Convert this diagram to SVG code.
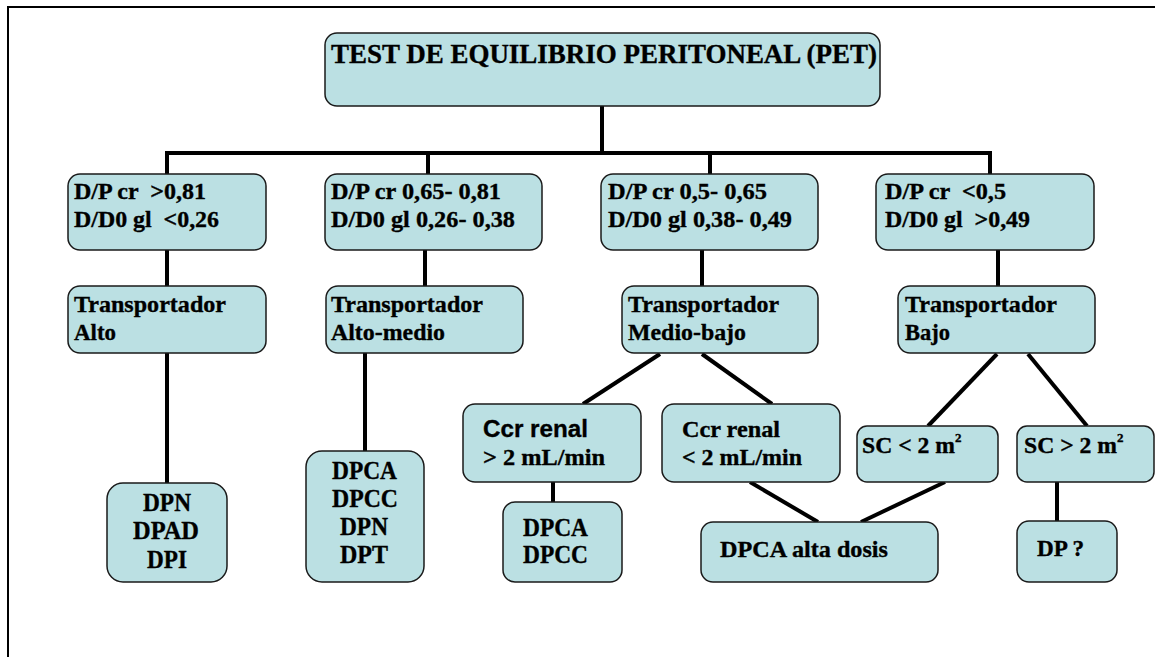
<svg xmlns="http://www.w3.org/2000/svg" width="1155" height="657" viewBox="0 0 1155 657">
  <style>
    .box { fill: #bbe0e3; stroke: #1a1a1a; stroke-width: 1.5; }
    .link { stroke: #000; stroke-width: 4; fill: none; stroke-linecap: butt; }
    text { font-family: "Liberation Serif", "Times New Roman", serif; font-weight: bold; fill: #000; stroke: #000; stroke-width: 0.35; white-space: pre; }
    .t23 { font-size: 23px; }
    .t24 { font-size: 24px; }
    .t25 { font-size: 25px; }
    .t27 { font-size: 27px; }
    .sans { font-family: "Liberation Sans", Arial, sans-serif; }
  </style>
  <rect width="1155" height="657" fill="#fff"/>
  <!-- page frame -->
  <path d="M8,657 V7 H1155" fill="none" stroke="#000" stroke-width="2"/>

  <g id="connectors">
    <line class="link" x1="602" y1="106" x2="602" y2="153"/>
    <line class="link" x1="165" y1="153" x2="992" y2="153"/>
    <line class="link" x1="167" y1="153" x2="167" y2="174"/>
    <line class="link" x1="428" y1="153" x2="428" y2="174"/>
    <line class="link" x1="710" y1="153" x2="710" y2="174"/>
    <line class="link" x1="990" y1="153" x2="990" y2="174"/>
    <line class="link" x1="167" y1="250" x2="167" y2="286"/>
    <line class="link" x1="425" y1="250" x2="425" y2="286"/>
    <line class="link" x1="702" y1="250" x2="702" y2="286"/>
    <line class="link" x1="998" y1="250" x2="998" y2="286"/>
    <line class="link" x1="167" y1="353" x2="167" y2="484"/>
    <line class="link" x1="365" y1="353" x2="365" y2="452"/>
    <line class="link" x1="660" y1="354" x2="583" y2="404"/>
    <line class="link" x1="702" y1="354" x2="772" y2="404"/>
    <line class="link" x1="997" y1="354" x2="928" y2="426"/>
    <line class="link" x1="1028" y1="354" x2="1087" y2="426"/>
    <line class="link" x1="553" y1="482" x2="553" y2="503"/>
    <line class="link" x1="750" y1="482" x2="818" y2="522"/>
    <line class="link" x1="945" y1="482" x2="861" y2="522"/>
    <line class="link" x1="1057" y1="482" x2="1057" y2="521"/>
  </g>

  <g id="pet">
    <rect class="box" x="325" y="33" width="555" height="73" rx="12"/>
    <text class="t27" x="331" y="63" textLength="546" lengthAdjust="spacingAndGlyphs">TEST DE EQUILIBRIO PERITONEAL (PET)</text>
  </g>

  <g id="rango-alto">
    <rect class="box" x="68" y="174" width="198" height="76" rx="12"/>
    <text class="t24" x="74" y="199" textLength="132" lengthAdjust="spacingAndGlyphs">D/P cr  &gt;0,81</text>
    <text class="t24" x="74" y="227" textLength="145" lengthAdjust="spacingAndGlyphs">D/D0 gl  &lt;0,26</text>
  </g>
  <g id="rango-alto-medio">
    <rect class="box" x="325" y="174" width="217" height="76" rx="12"/>
    <text class="t24" x="331" y="199" textLength="170" lengthAdjust="spacingAndGlyphs">D/P cr 0,65- 0,81</text>
    <text class="t24" x="331" y="227" textLength="184" lengthAdjust="spacingAndGlyphs">D/D0 gl 0,26- 0,38</text>
  </g>
  <g id="rango-medio-bajo">
    <rect class="box" x="601" y="174" width="217" height="76" rx="12"/>
    <text class="t24" x="608" y="199" textLength="159" lengthAdjust="spacingAndGlyphs">D/P cr 0,5- 0,65</text>
    <text class="t24" x="608" y="227" textLength="184" lengthAdjust="spacingAndGlyphs">D/D0 gl 0,38- 0,49</text>
  </g>
  <g id="rango-bajo">
    <rect class="box" x="876" y="174" width="218" height="76" rx="12"/>
    <text class="t24" x="885" y="199" textLength="121" lengthAdjust="spacingAndGlyphs">D/P cr  &lt;0,5</text>
    <text class="t24" x="885" y="227" textLength="145" lengthAdjust="spacingAndGlyphs">D/D0 gl  &gt;0,49</text>
  </g>

  <g id="transp-alto">
    <rect class="box" x="68" y="286" width="198" height="67" rx="12"/>
    <text class="t24" x="74" y="312" textLength="152" lengthAdjust="spacingAndGlyphs">Transportador</text>
    <text class="t24" x="74" y="340" textLength="42" lengthAdjust="spacingAndGlyphs">Alto</text>
  </g>
  <g id="transp-alto-medio">
    <rect class="box" x="326" y="286" width="197" height="67" rx="12"/>
    <text class="t24" x="331" y="312" textLength="152" lengthAdjust="spacingAndGlyphs">Transportador</text>
    <text class="t24" x="331" y="340" textLength="114" lengthAdjust="spacingAndGlyphs">Alto-medio</text>
  </g>
  <g id="transp-medio-bajo">
    <rect class="box" x="622" y="286" width="196" height="67" rx="12"/>
    <text class="t24" x="628" y="312" textLength="151" lengthAdjust="spacingAndGlyphs">Transportador</text>
    <text class="t24" x="628" y="340" textLength="118" lengthAdjust="spacingAndGlyphs">Medio-bajo</text>
  </g>
  <g id="transp-bajo">
    <rect class="box" x="898" y="286" width="197" height="67" rx="12"/>
    <text class="t24" x="905" y="312" textLength="152" lengthAdjust="spacingAndGlyphs">Transportador</text>
    <text class="t24" x="905" y="340" textLength="45" lengthAdjust="spacingAndGlyphs">Bajo</text>
  </g>

  <g id="dp-alto">
    <rect class="box" x="107" y="483" width="120" height="99" rx="16"/>
    <text class="t25" x="143" y="511" textLength="48" lengthAdjust="spacingAndGlyphs">DPN</text>
    <text class="t25" x="133" y="539" textLength="66" lengthAdjust="spacingAndGlyphs">DPAD</text>
    <text class="t25" x="147" y="568" textLength="40" lengthAdjust="spacingAndGlyphs">DPI</text>
  </g>
  <g id="dp-alto-medio">
    <rect class="box" x="306" y="451" width="118" height="131" rx="16"/>
    <text class="t25" x="332" y="479" textLength="65" lengthAdjust="spacingAndGlyphs">DPCA</text>
    <text class="t25" x="332" y="507" textLength="66" lengthAdjust="spacingAndGlyphs">DPCC</text>
    <text class="t25" x="340" y="535" textLength="48" lengthAdjust="spacingAndGlyphs">DPN</text>
    <text class="t25" x="340" y="563" textLength="48" lengthAdjust="spacingAndGlyphs">DPT</text>
  </g>

  <g id="ccr-mayor">
    <rect class="box" x="463" y="404" width="178" height="78" rx="12"/>
    <text class="t24 sans" x="483" y="437" textLength="105" lengthAdjust="spacingAndGlyphs">Ccr renal</text>
    <text class="t24" x="483" y="465" textLength="122" lengthAdjust="spacingAndGlyphs">&gt; 2 mL/min</text>
  </g>
  <g id="ccr-menor">
    <rect class="box" x="662" y="404" width="178" height="78" rx="12"/>
    <text class="t24" x="682" y="437" textLength="98" lengthAdjust="spacingAndGlyphs">Ccr renal</text>
    <text class="t24" x="682" y="465" textLength="120" lengthAdjust="spacingAndGlyphs">&lt; 2 mL/min</text>
  </g>
  <g id="dpca-dpcc">
    <rect class="box" x="503" y="502" width="119" height="80" rx="12"/>
    <text class="t25" x="523" y="536" textLength="65" lengthAdjust="spacingAndGlyphs">DPCA</text>
    <text class="t25" x="523" y="563" textLength="65" lengthAdjust="spacingAndGlyphs">DPCC</text>
  </g>
  <g id="dpca-alta-dosis">
    <rect class="box" x="701" y="522" width="237" height="60" rx="12"/>
    <text class="t24" x="720" y="557" textLength="168" lengthAdjust="spacingAndGlyphs">DPCA alta dosis</text>
  </g>

  <g id="sc-menor">
    <rect class="box" x="857" y="426" width="141" height="56" rx="10"/>
    <text class="t23" x="862" y="453" textLength="93" lengthAdjust="spacingAndGlyphs">SC &lt; 2 m</text>
    <text x="955" y="442" font-size="13">2</text>
  </g>
  <g id="sc-mayor">
    <rect class="box" x="1017" y="426" width="137" height="56" rx="10"/>
    <text class="t23" x="1024" y="453" textLength="93" lengthAdjust="spacingAndGlyphs">SC &gt; 2 m</text>
    <text x="1117" y="442" font-size="13">2</text>
  </g>
  <g id="dp-interrogante">
    <rect class="box" x="1017" y="521" width="100" height="61" rx="12"/>
    <text class="t23" x="1037" y="556" textLength="47" lengthAdjust="spacingAndGlyphs">DP ?</text>
  </g>
</svg>
